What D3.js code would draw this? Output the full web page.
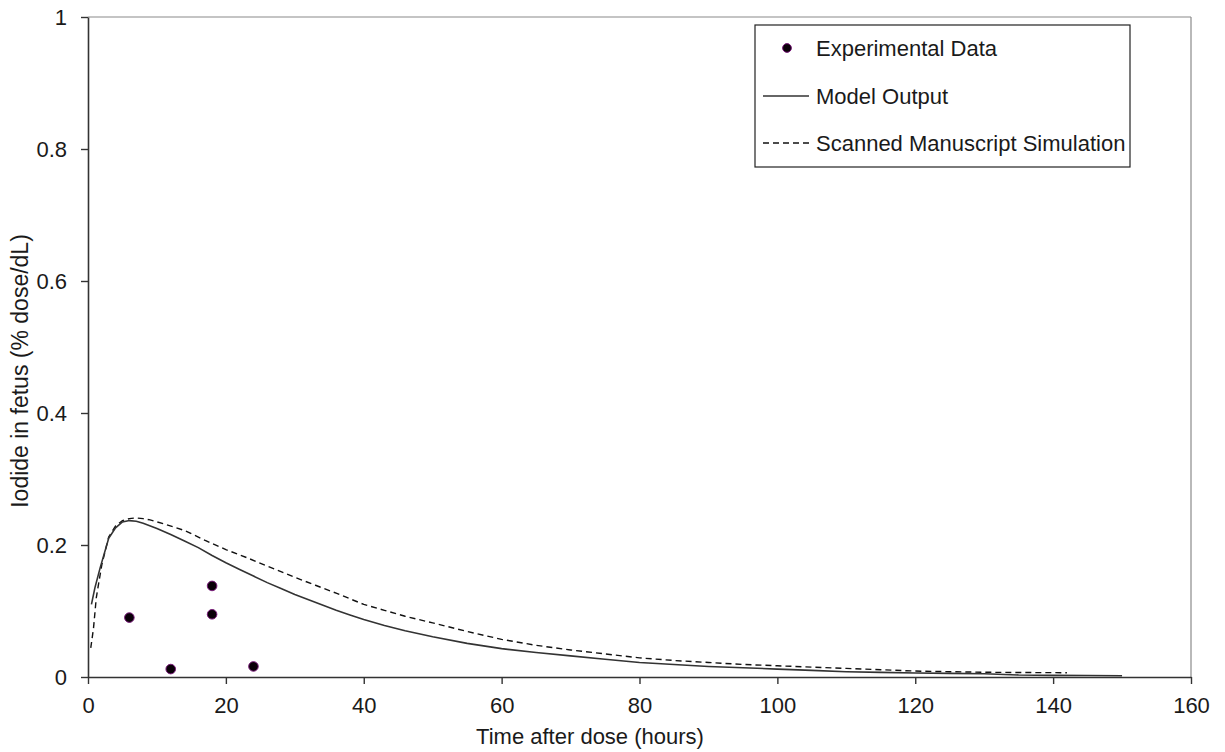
<!DOCTYPE html>
<html>
<head>
<meta charset="utf-8">
<script src="https://cdn.jsdelivr.net/npm/d3@7"></script>
<style>
  html, body { margin: 0; padding: 0; background: #fff; }
  svg { display: block; font-family: "Liberation Sans", Arial, sans-serif; }
</style>
</head>
<body>
<svg id="chart" width="1225" height="752"></svg>
<script>
// Measured fetal iodide (time in hours, % dose/dL)
const expTimes  = [6, 12, 18, 18, 24];
const expValues = [0.090, 0.012, 0.138, 0.095, 0.016];

// Model output curve
const modelTimes  = [0.5, 1, 1.75, 3, 4, 5, 6, 7, 8, 10, 12, 14, 16, 18, 20, 22, 24, 26, 28, 30,
                     32, 34, 36, 38, 40, 43, 46, 50, 55, 60, 65, 70, 75, 80, 85, 90, 95, 100,
                     105, 110, 115, 120, 125, 130, 135, 140, 145, 150];
const modelValues = [0.110, 0.135, 0.165, 0.210, 0.226, 0.235, 0.237, 0.236, 0.233, 0.225, 0.216,
                     0.206, 0.196, 0.184, 0.173, 0.163, 0.153, 0.143, 0.134, 0.125, 0.117, 0.109,
                     0.101, 0.094, 0.087, 0.078, 0.070, 0.061, 0.051, 0.043, 0.037, 0.032, 0.027,
                     0.022, 0.019, 0.016, 0.014, 0.012, 0.010, 0.008, 0.007, 0.006, 0.0055,
                     0.005, 0.003, 0.0025, 0.0022, 0.002];

const scanTimes  = [0.4, 0.8, 1.2, 2, 3, 4, 5, 6, 7, 8, 9, 11, 14, 17, 20, 23, 26, 30, 33, 36, 40,
                    43, 46, 50, 55, 60, 65, 70, 75, 80, 85, 90, 95, 100, 105, 110, 115, 120, 125,
                    130, 135, 142];
const scanValues = [0.044, 0.074, 0.120, 0.170, 0.212, 0.229, 0.237, 0.240, 0.241, 0.240, 0.238,
                    0.232, 0.222, 0.207, 0.193, 0.181, 0.168, 0.151, 0.139, 0.127, 0.110, 0.101,
                    0.092, 0.082, 0.069, 0.057, 0.048, 0.041, 0.035, 0.029, 0.025, 0.022, 0.019,
                    0.017, 0.015, 0.013, 0.011, 0.009, 0.008, 0.0072, 0.0068, 0.0065];

const xTicks = [0, 20, 40, 60, 80, 100, 120, 140, 160];
const yTicks = [0, 0.2, 0.4, 0.6, 0.8, 1];
const yTickLabels = ["0", "0.2", "0.4", "0.6", "0.8", "1"];

const legendLabels = ["Experimental Data", "Model Output", "Scanned Manuscript Simulation"];

const svg = d3.select("#chart");
const plotLeft = 88, plotRight = 1191, plotTop = 17, plotBottom = 677;
const fontSize = "22px";

const x = d3.scaleLinear().domain([0, 160]).range([plotLeft, plotRight]);
const y = d3.scaleLinear().domain([0, 1]).range([plotBottom, plotTop]);

// plot frame: light top and right edges
svg.append("line").attr("x1", plotLeft).attr("x2", plotRight).attr("y1", plotTop).attr("y2", plotTop)
  .attr("stroke", "#8a8a8a").attr("stroke-width", 1.2);
svg.append("line").attr("x1", plotRight).attr("x2", plotRight).attr("y1", plotTop).attr("y2", plotBottom)
  .attr("stroke", "#8a8a8a").attr("stroke-width", 1.2);

// axes
const xAxis = svg.append("g").attr("transform", `translate(0,${plotBottom})`)
  .call(d3.axisBottom(x).tickValues(xTicks).tickSizeInner(7).tickSizeOuter(0).tickPadding(13)
    .tickFormat(d3.format("d")));
const yAxis = svg.append("g").attr("transform", `translate(${plotLeft},0)`)
  .call(d3.axisLeft(y).tickValues(yTicks).tickSizeInner(7).tickSizeOuter(0).tickPadding(14)
    .tickFormat((d, i) => yTickLabels[i]));

[xAxis, yAxis].forEach(g => {
  g.select(".domain").attr("stroke", "#333").attr("stroke-width", 1.6);
  g.selectAll(".tick line").attr("stroke", "#333").attr("stroke-width", 1.4);
  g.selectAll(".tick text").attr("fill", "#1a1a1a")
    .style("font-size", fontSize).style("font-family", "Liberation Sans, Arial, sans-serif");
});

// axis titles
svg.append("text").attr("x", 590).attr("y", 744).attr("text-anchor", "middle")
  .attr("fill", "#1a1a1a").style("font-size", fontSize).text("Time after dose (hours)");
svg.append("text").attr("transform", "translate(28,371) rotate(-90)").attr("text-anchor", "middle")
  .attr("fill", "#1a1a1a").style("font-size", "23px").text("Iodide in fetus (% dose/dL)");

const line = d3.line().x(d => x(d[0])).y(d => y(d[1]));
const scanData = scanTimes.map((t, i) => [t, scanValues[i]]);
const modelData = modelTimes.map((t, i) => [t, modelValues[i]]);

svg.append("path").datum(scanData).attr("d", line)
  .attr("fill", "none").attr("stroke", "#111").attr("stroke-width", 1.4)
  .attr("stroke-dasharray", "6,4");
svg.append("path").datum(modelData).attr("d", line)
  .attr("fill", "none").attr("stroke", "#333").attr("stroke-width", 1.6);

// experimental points
svg.append("g").selectAll("circle")
  .data(expTimes.map((t, i) => [t, expValues[i]]))
  .join("circle")
  .attr("cx", d => x(d[0])).attr("cy", d => y(d[1])).attr("r", 4.8)
  .attr("fill", "#0a0008").attr("stroke", "#7a1a7a").attr("stroke-width", 1);

// legend
const lg = svg.append("g");
lg.append("rect").attr("x", 755).attr("y", 25).attr("width", 375).attr("height", 142)
  .attr("fill", "#fff").attr("stroke", "#222").attr("stroke-width", 1.2);
const rows = [48, 96, 143];
lg.append("circle").attr("cx", 787).attr("cy", rows[0]).attr("r", 4.4)
  .attr("fill", "#0a0008").attr("stroke", "#7a1a7a").attr("stroke-width", 1);
lg.append("line").attr("x1", 763).attr("x2", 809).attr("y1", rows[1]).attr("y2", rows[1])
  .attr("stroke", "#333").attr("stroke-width", 1.5);
lg.append("line").attr("x1", 763).attr("x2", 809).attr("y1", rows[2]).attr("y2", rows[2])
  .attr("stroke", "#111").attr("stroke-width", 1.3).attr("stroke-dasharray", "6,4");
legendLabels.forEach((t, i) => {
  lg.append("text").attr("x", 816).attr("y", rows[i] + 8)
    .attr("fill", "#1a1a1a").style("font-size", fontSize).text(t);
});
</script>
</body>
</html>
